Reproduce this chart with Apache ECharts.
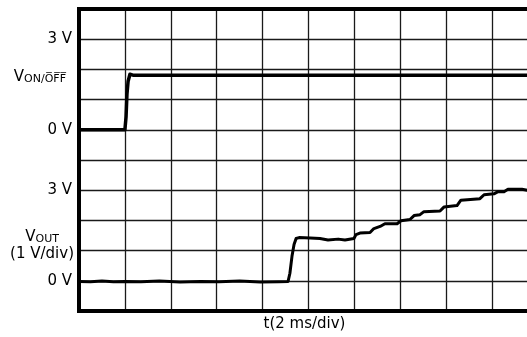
<!DOCTYPE html>
<html><head><meta charset="utf-8">
<script src="https://cdn.jsdelivr.net/npm/echarts@6/dist/echarts.min.js"></script>
<style>html,body{margin:0;padding:0;background:#fff;overflow:hidden}#c{width:542px;height:337px}</style>
</head><body><div id="c"></div>
<script>
// time in ms (2 ms/div), voltages in V
const vonTimeMs = [0, 2.00, 2.05, 2.09, 2.14, 2.22, 2.29, 2.35, 20];
const vonVolts  = [0, 0, 0.43, 1.18, 1.61, 1.84, 1.89, 1.81, 1.81];

const voutTimeMs = [0, 0.5, 1, 1.5, 2, 2.7, 3.5, 4.4, 5.3, 6.1, 7.0, 7.9, 8.7, 9.11,
  9.19, 9.28, 9.37, 9.46, 9.59, 10.07, 10.5, 10.85, 11.29, 11.59, 11.98, 12.07, 12.24,
  12.68, 12.85, 13.12, 13.33, 13.86, 14.03, 14.42, 14.6, 14.86, 15.03, 15.73, 15.9,
  16.47, 16.64, 17.47, 17.65, 18.08, 18.26, 18.52, 18.69, 19.3, 19.65];
const voutVolts = [-0.02, -0.03, -0.01, -0.03, -0.02, -0.03, -0.01, -0.04, -0.02, -0.03, -0.01, -0.04, -0.03, -0.02,
  0.25, 0.81, 1.20, 1.40, 1.43, 1.42, 1.40, 1.35, 1.38, 1.35, 1.40, 1.53, 1.58,
  1.60, 1.73, 1.80, 1.89, 1.89, 1.99, 2.03, 2.16, 2.19, 2.29, 2.31, 2.44,
  2.49, 2.67, 2.72, 2.85, 2.88, 2.95, 2.95, 3.03, 3.03, 2.98];

const voltTickLabels = {0: '0 V', 3: '3 V'};
const xAxisName = 't(2 ms/div)';
const vonName = 'V';
const vonSub = 'ON/O\u0305F\u0305F\u0305';
const voutName = 'V';
const voutSub = 'OUT';
const voutScale = '(1 V/div)';

const FONT = 'DejaVu Sans';
const vonData = vonTimeMs.map((t, i) => [t, vonVolts[i]]);
const voutData = voutTimeMs.map((t, i) => [t, voutVolts[i]]);
const near = (a, b) => Math.abs(a - b) < 0.001;

const chart = echarts.init(document.getElementById('c'), null, {renderer: 'canvas'});
chart.setOption({
  animation: false,
  backgroundColor: '#fff',
  grid: {left: 79, top: 9, right: 4, bottom: 24, show: true, borderColor: '#000', borderWidth: 4, backgroundColor: 'transparent', z: 3},
  xAxis: {
    type: 'value', min: 0, max: 20, interval: 2,
    axisLine: {show: false}, axisTick: {show: false}, axisLabel: {show: false},
    splitLine: {show: true, lineStyle: {color: '#1a1a1a', width: 1.3}},
    name: xAxisName, nameLocation: 'middle', nameGap: 6,
    nameTextStyle: {fontFamily: FONT, fontSize: 15, color: '#000', verticalAlign: 'top', padding: [0, 8, 0, 0]}
  },
  yAxis: [
    {type: 'value', position: 'left', min: -6, max: 4, interval: 1,
      axisLine: {show: false}, axisTick: {show: false},
      splitLine: {show: true, lineStyle: {color: '#1a1a1a', width: 1.3}},
      axisLabel: {margin: 7, fontFamily: FONT, fontSize: 15, color: '#000',
        formatter: v => voltTickLabels[v] || ''}},
    {type: 'value', position: 'left', min: -1, max: 9, interval: 1,
      axisLine: {show: false}, axisTick: {show: false}, splitLine: {show: false},
      axisLabel: {margin: 7, fontFamily: FONT, fontSize: 15, color: '#000',
        formatter: v => voltTickLabels[v] || ''}},
    {type: 'value', position: 'left', min: -6, max: 4, interval: 0.05,
      axisLine: {show: false}, axisTick: {show: false}, splitLine: {show: false},
      axisLabel: {margin: 5, fontFamily: FONT, fontSize: 15, color: '#000',
        formatter: v => {
          if (near(v, 1.8)) return '{v|' + vonName + '}{s|' + vonSub + '}{g|}';
          if (near(v, -3.8)) return '{v|' + voutName + '}{s|' + voutSub + '}\n{n|' + voutScale + '}';
          return '';
        },
        rich: {
          v: {fontFamily: FONT, fontSize: 15, color: '#000', align: 'center', lineHeight: 19, verticalAlign: 'bottom'},
          s: {fontFamily: FONT, fontSize: 11, color: '#000', align: 'center', lineHeight: 19, verticalAlign: 'bottom'},
          n: {fontFamily: FONT, fontSize: 15, color: '#000', align: 'center', lineHeight: 19},
          g: {width: 8, fontSize: 11, lineHeight: 19}
        }}}
  ],
  series: [
    {type: 'line', name: 'VON', xAxisIndex: 0, yAxisIndex: 0, data: vonData, showSymbol: false, symbol: 'none',
      lineStyle: {color: '#000', width: 3.5, join: 'round', cap: 'round'}, z: 4},
    {type: 'line', name: 'VOUT', xAxisIndex: 0, yAxisIndex: 1, data: voutData, showSymbol: false, symbol: 'none',
      lineStyle: {color: '#000', width: 3, join: 'round', cap: 'round'}, z: 4}
  ]
});
</script></body></html>
